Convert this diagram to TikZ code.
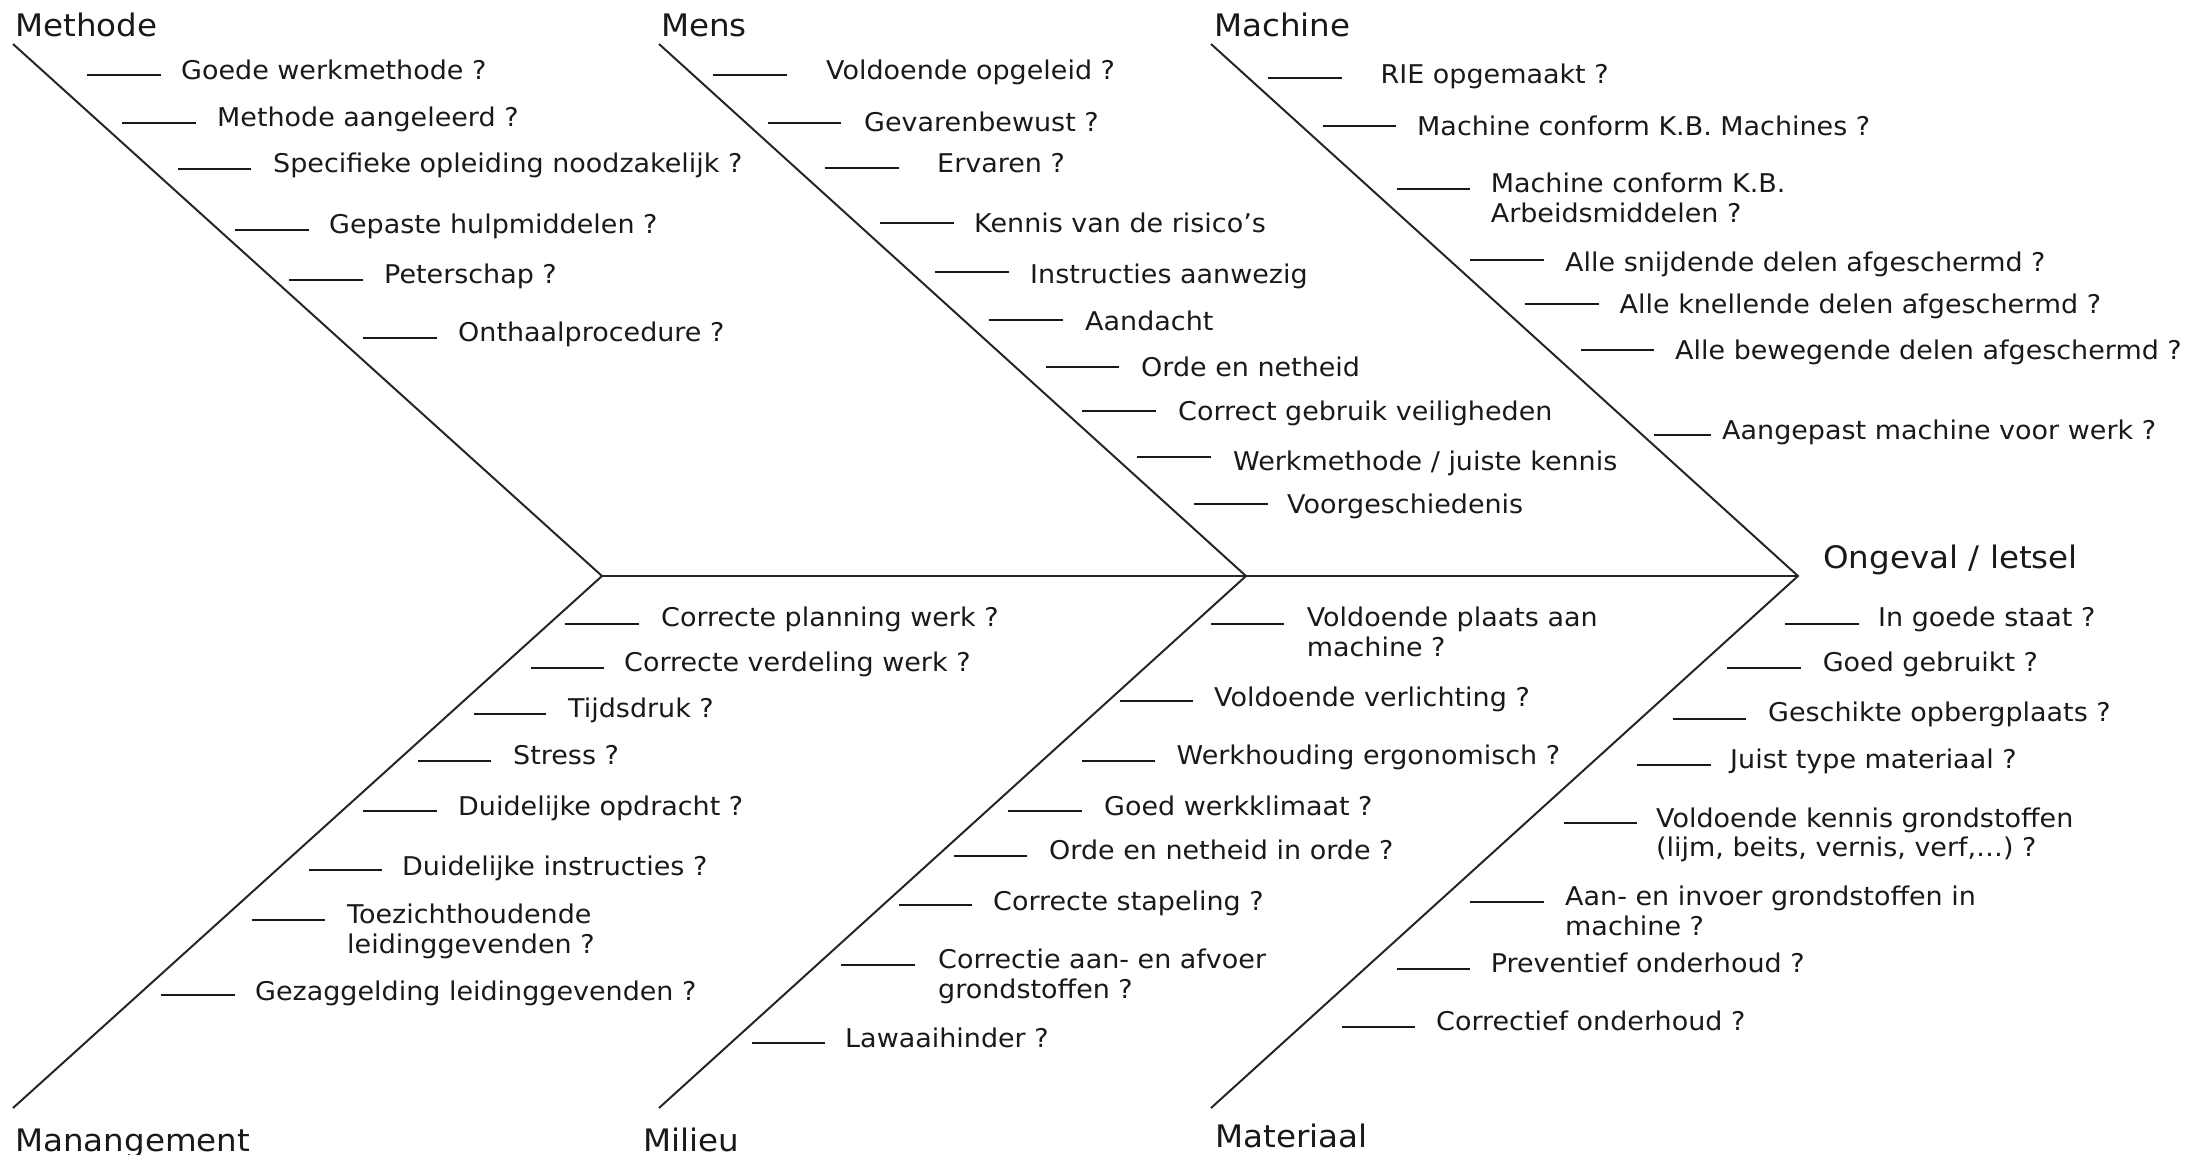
\documentclass[tikz,border=0pt]{standalone}
\usepackage{fontspec}
\setmainfont{DejaVu Sans}
\newfontfamily\lblfont{DejaVu Sans}[FakeStretch=1.045]
\newfontfamily\headfont{DejaVu Sans}[FakeStretch=1.05]
\tikzset{
  bone/.style={line width=2pt, draw=black!85},
  spine/.style={line width=2.8pt, draw=black!85},
  tick/.style={line width=2pt, draw=black!90},
  lbl/.style={anchor=base west, inner sep=0pt, align=left, font=\lblfont\fontsize{25.8}{29.5}\selectfont, text=black!90},
  head/.style={anchor=base west, inner sep=0pt, font=\headfont\fontsize{31}{36}\selectfont, text=black!90},
}
\newcommand\fbi[7]{\draw[tick] (#2,#4) -- (#3,#4); \node[lbl] (#1) at (#5,#6) {#7};}
\begin{document}
\begin{tikzpicture}[x=1pt,y=-1pt]
\useasboundingbox (0,0) rectangle (2186,1154);
% junctions and ends
\coordinate (j1) at (602,576);
\coordinate (j2) at (1246,576);
\coordinate (j3) at (1798,576);
\coordinate (t1) at (13,44);
\coordinate (t2) at (659,44);
\coordinate (t3) at (1211,44);
\coordinate (b1) at (13,1108);
\coordinate (b2) at (659,1108);
\coordinate (b3) at (1211,1108);
\draw[spine] (j1) -- (j2) -- (j3);
\draw[bone] (t1) -- (j1) -- (b1);
\draw[bone] (t2) -- (j2) -- (b2);
\draw[bone] (t3) -- (j3) -- (b3);
% headers
\node[head] (hmethode) at (15,36) {Methode};
\node[head] (hmens) at (661,36) {Mens};
\node[head] (hmachine) at (1214,36) {Machine};
\node[head] (hman) at (15,1151) {Manangement};
\node[head] (hmilieu) at (643,1151) {Milieu};
\node[head] (hmat) at (1215,1147) {Materiaal};
\node[head] (effect) at (1823,568) {Ongeval / letsel};
% Methode
\fbi{m1}{87}{161}{75}{181}{79}{Goede werkmethode ?}
\fbi{m2}{122}{196}{122.5}{217}{126}{Methode aangeleerd ?}
\fbi{m3}{177.5}{251}{168.5}{273}{172}{Specifieke opleiding noodzakelijk ?}
\fbi{m4}{235}{309}{229.5}{329}{233}{Gepaste hulpmiddelen ?}
\fbi{m5}{289}{363}{280}{384}{283.5}{Peterschap ?}
\fbi{m6}{363}{437}{338}{458}{341}{Onthaalprocedure ?}
% Mens
\fbi{n1}{713}{787}{75.4}{826}{79}{Voldoende opgeleid ?}
\fbi{n2}{768}{841}{122.5}{864}{131}{Gevarenbewust ?}
\fbi{n3}{824.5}{898.5}{168.4}{937}{172}{Ervaren ?}
\fbi{n4}{880}{954}{223}{974}{232}{Kennis van de risico’s}
\fbi{n5}{935}{1009}{271.7}{1030}{283}{Instructies aanwezig}
\fbi{n6}{989}{1063}{319.6}{1085}{330}{Aandacht}
\fbi{n7}{1046}{1119}{366.6}{1141}{376}{Orde en netheid}
\fbi{n8}{1082}{1156}{411.4}{1178}{420}{Correct gebruik veiligheden}
\fbi{n9}{1137}{1211}{457.3}{1233}{470}{Werkmethode / juiste kennis}
\fbi{n10}{1194}{1268}{504.4}{1287}{513.6}{Voorgeschiedenis}
% Machine
\fbi{c1}{1268}{1341.5}{77.7}{1380.5}{83.4}{RIE opgemaakt ?}
\fbi{c2}{1322.6}{1396}{125.5}{1417}{135}{Machine conform K.B. Machines ?}
\fbi{c3}{1397}{1470}{188.7}{1490.6}{222}{Machine conform K.B.\\Arbeidsmiddelen ?}
\fbi{c4}{1470}{1544}{259.5}{1565}{271}{Alle snijdende delen afgeschermd ?}
\fbi{c5}{1525}{1599}{304}{1619.5}{313.8}{Alle knellende delen afgeschermd ?}
\fbi{c6}{1580.5}{1654}{350}{1675}{359.7}{Alle bewegende delen afgeschermd ?}
\fbi{c7}{1654}{1710.7}{435}{1722}{439.3}{Aangepast machine voor werk ?}
% Manangement
\fbi{g1}{565}{639}{623.7}{661}{626.7}{Correcte planning werk ?}
\fbi{g2}{530.6}{603.6}{667.7}{624}{671}{Correcte verdeling werk ?}
\fbi{g3}{473.5}{546}{714}{568}{717.8}{Tijdsdruk ?}
\fbi{g4}{418}{491}{760.7}{513}{764.5}{Stress ?}
\fbi{g5}{363}{437}{811}{458}{815.4}{Duidelijke opdracht ?}
\fbi{g6}{308.7}{381.6}{869.7}{402}{875.5}{Duidelijke instructies ?}
\fbi{g7}{251.5}{325}{920}{347}{953}{Toezichthoudende\\leidinggevenden ?}
\fbi{g8}{160.7}{234.7}{994.9}{255}{1000.6}{Gezaggelding leidinggevenden ?}
% Milieu
\fbi{l1}{1211}{1283.7}{623.7}{1306.6}{656}{Voldoende plaats aan\\machine ?}
\fbi{l2}{1120.4}{1193.4}{701.3}{1214}{706}{Voldoende verlichting ?}
\fbi{l3}{1082}{1155}{760.7}{1176.5}{764.5}{Werkhouding ergonomisch ?}
\fbi{l4}{1008}{1082}{811}{1104}{815.4}{Goed werkklimaat ?}
\fbi{l5}{953.6}{1027}{855.6}{1049}{859}{Orde en netheid in orde ?}
\fbi{l6}{898.5}{972.4}{905.3}{993}{910}{Correcte stapeling ?}
\fbi{l7}{841.3}{915.3}{964.6}{938}{998}{Correctie aan- en afvoer\\grondstoffen ?}
\fbi{l8}{751.5}{824.5}{1043}{845}{1047.7}{Lawaaihinder ?}
% Materiaal
\fbi{r1}{1785}{1858.5}{623.7}{1878}{626.7}{In goede staat ?}
\fbi{r2}{1727}{1800.6}{667.7}{1822.6}{671}{Goed gebruikt ?}
\fbi{r3}{1673}{1746}{718.6}{1768}{721.6}{Geschikte opbergplaats ?}
\fbi{r4}{1637}{1710.7}{764.5}{1730}{768.3}{Juist type materiaal ?}
\fbi{r5}{1563.5}{1637}{823}{1656}{856.5}{Voldoende kennis grondstoffen\\(lijm, beits, vernis, verf,…) ?}
\fbi{r6}{1470}{1544}{902.3}{1565}{935}{Aan- en invoer grondstoffen in\\machine ?}
\fbi{r7}{1397}{1470}{968.5}{1490.6}{972.3}{Preventief onderhoud ?}
\fbi{r8}{1341.5}{1415}{1027.4}{1436}{1030.5}{Correctief onderhoud ?}
\end{tikzpicture}
\end{document}
